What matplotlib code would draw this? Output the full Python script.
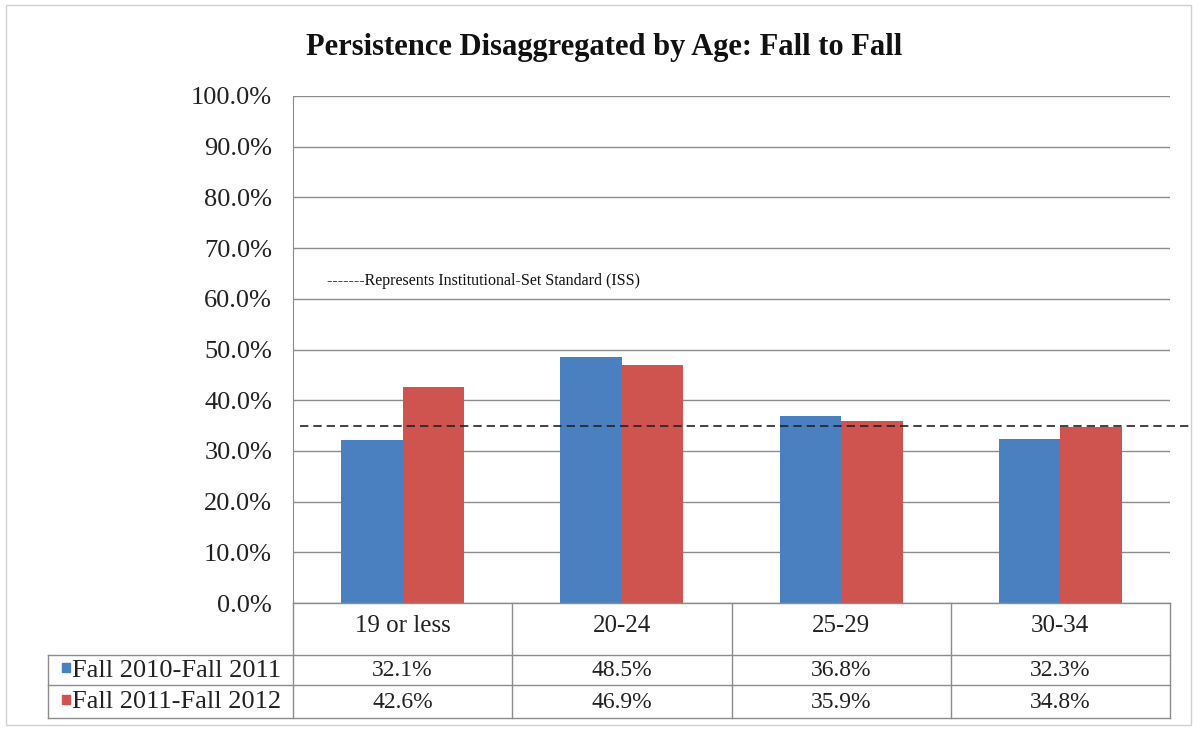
import matplotlib
matplotlib.use("Agg")
import matplotlib.pyplot as plt
from matplotlib.patches import Rectangle
from matplotlib.lines import Line2D
import matplotlib.transforms as mtransforms

categories = ["19 or less", "20-24", "25-29", "30-34"]
series_names = ["Fall 2010-Fall 2011", "Fall 2011-Fall 2012"]
fall_2010_2011 = [32.1, 48.5, 36.8, 32.3]
fall_2011_2012 = [42.6, 46.9, 35.9, 34.8]
iss_value = 35.0
yticks = [0, 10, 20, 30, 40, 50, 60, 70, 80, 90, 100]

colors = ["#4a7fc0", "#cf5450"]
serif = ["Liberation Serif", "DejaVu Serif"]

fig = plt.figure(figsize=(11.99, 7.30), dpi=100)
W, H = 1199, 730
# axes in pixel coords: left 293, right 1170, top 96, bottom 603
ax = fig.add_axes([293 / W, 1 - 603 / H, (1170 - 293) / W, (603 - 96) / H])

n = len(categories)
bw = 0.28
series = [fall_2010_2011, fall_2011_2012]
for s, vals in enumerate(series):
    xs = [i + 0.5 + (s - 0.5) * bw for i in range(n)]
    ax.bar(xs, vals, width=bw, color=colors[s], zorder=3)

ax.set_xlim(0, n)
ax.set_ylim(0, 100)
ax.set_yticks(yticks)
ax.set_yticklabels([f"{v:.1f}%" for v in yticks], fontfamily=serif, fontsize=19, color="#222222")
ax.tick_params(axis="y", length=0, pad=15)
ax.set_xticks([])
ax.grid(axis="y", color="#8c8c8c", linewidth=1.0, zorder=0)
for sp in ["top", "right", "bottom"]:
    ax.spines[sp].set_visible(False)
ax.spines["left"].set_color("#8c8c8c")

# ISS dashed line (extends a bit beyond the plot on the right)
ax.plot([0.03, n * (1190 - 293) / (1170 - 293)], [iss_value, iss_value], linestyle=(0, (5, 3)),
        color="#222222", linewidth=1.2, zorder=4, clip_on=False)
ax.text(0.155, 63.5, "-------Represents Institutional-Set Standard (ISS)", fontfamily=serif,
        fontsize=11.5, va="center", ha="left", color="#111111")

# Title
fig.text(604 / W, 1 - 47 / H, "Persistence Disaggregated by Age: Fall to Fall", fontfamily=serif,
         fontsize=22, fontweight="bold", ha="center", va="center", color="#111111")

# Data table below axes (axes x coords, figure-pixel y)
trans = mtransforms.blended_transform_factory(ax.transData, fig.transFigure)
def fy(py):
    return 1 - py / H
line_kw = dict(color="#8c8c8c", linewidth=1.0, transform=trans, clip_on=False)
left_x = (48 - 293) / (1170 - 293) * n
row_y = [603, 655, 685, 718]
fig.add_artist(Line2D([0, n], [fy(603), fy(603)], **line_kw))
for yy in row_y[1:]:
    fig.add_artist(Line2D([left_x, n], [fy(yy), fy(yy)], **line_kw))
for i in range(n + 1):
    fig.add_artist(Line2D([i, i], [fy(603), fy(718)], **line_kw))
fig.add_artist(Line2D([left_x, left_x], [fy(655), fy(718)], **line_kw))

for i, c in enumerate(categories):
    fig.text(i + 0.5, fy(626), c, transform=trans, ha="center", va="center",
             fontfamily=serif, fontsize=18, color="#222222")
for r, vals in enumerate(series):
    yc = fy((row_y[r + 1] + row_y[r + 2]) / 2 + 1)
    for i, v in enumerate(vals):
        fig.text(i + 0.5, yc, f"{v:.1f}%", transform=trans, ha="center", va="center",
                 fontfamily=serif, fontsize=17, color="#222222")
    fig.add_artist(Rectangle((62 / W, yc - 1 / H), 8 / W, 9 / H, color=colors[r],
                             transform=fig.transFigure))
    fig.text(72 / W, yc, series_names[r], ha="left", va="center",
             fontfamily=serif, fontsize=19, color="#222222")

# outer frame
fig.add_artist(Rectangle((6 / W, 1 - 725 / H), 1185 / W, 720 / H, fill=False,
                         edgecolor="#d0d0d0", linewidth=1.0, transform=fig.transFigure))

fig.savefig("out.png", dpi=100)
